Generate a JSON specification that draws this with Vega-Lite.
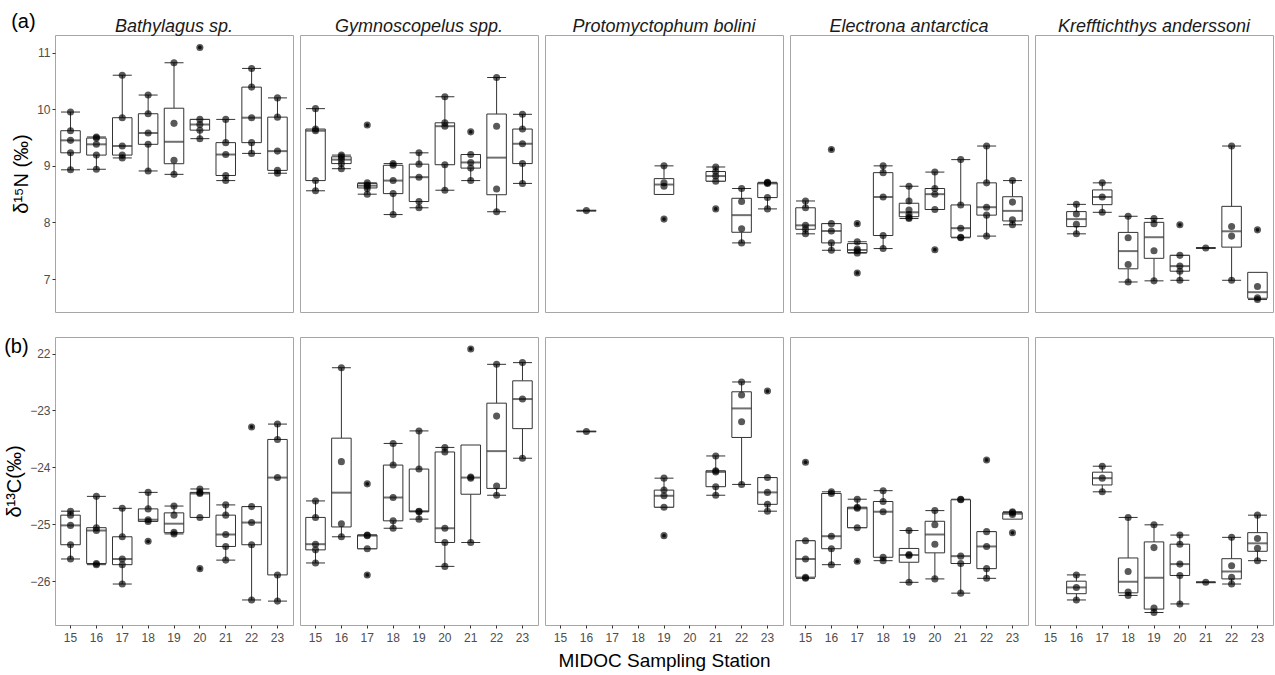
{
"$schema": "https://vega.github.io/schema/vega-lite/v6.json",
"padding": {"left": 4, "top": 11, "right": 2, "bottom": 2},
"background": "white",
"config": {
  "font": "Liberation Sans",
  "mark": {"color": "#333333"},
  "tick": {"color": "#333333"},
  "bar": {"color": "#333333"},
  "view": {"stroke": "#a6a6a6", "strokeWidth": 1},
  "title": {"font": "Liberation Sans", "fontSize": 18, "fontStyle": "italic", "fontWeight": "normal", "color": "#1a1a1a", "offset": -1},
  "axis": {"domain": false, "grid": false, "labelFont": "Liberation Sans", "labelFontSize": 12, "labelColor": "#4d4d4d", "tickColor": "#333333", "tickSize": 3, "labelPadding": 2, "titleFont": "Liberation Sans", "titleFontWeight": "normal", "titleColor": "#000000"},
  "axisY": {"titleFontSize": 20, "titlePadding": 5},
  "axisX": {"titleFontSize": 19, "labelAngle": 0, "labelPadding": 4, "titlePadding": 8},
  "boxplot": {"size": 19.5, "extent": 1.5, "color": "#333333",
    "box": {"color": "#333333", "fill": "white", "stroke": "#333333", "strokeWidth": 1, "opacity": 1},
    "median": {"color": "#333333", "fill": "#333333", "thickness": 2},
    "rule": {"color": "#333333", "stroke": "#333333", "strokeWidth": 1},
    "ticks": {"color": "#333333", "fill": "#333333", "size": 19, "thickness": 1},
    "outliers": {"color": "#111111", "size": 14, "filled": true, "opacity": 1}},
  "point": {"filled": true, "color": "#000000", "opacity": 0.65, "size": 50}
},
"datasets": {
"n": [
{"s":"Bat","st":15,"v":9.95},{"s":"Bat","st":15,"v":9.62},{"s":"Bat","st":15,"v":9.45},{"s":"Bat","st":15,"v":9.23},{"s":"Bat","st":15,"v":8.93},
{"s":"Bat","st":16,"v":9.51},{"s":"Bat","st":16,"v":9.49},{"s":"Bat","st":16,"v":9.38},{"s":"Bat","st":16,"v":9.19},{"s":"Bat","st":16,"v":8.94},
{"s":"Bat","st":17,"v":10.60},{"s":"Bat","st":17,"v":9.85},{"s":"Bat","st":17,"v":9.35},{"s":"Bat","st":17,"v":9.19},{"s":"Bat","st":17,"v":9.14},
{"s":"Bat","st":18,"v":10.25},{"s":"Bat","st":18,"v":9.92},{"s":"Bat","st":18,"v":9.58},{"s":"Bat","st":18,"v":9.38},{"s":"Bat","st":18,"v":8.91},
{"s":"Bat","st":19,"v":10.82},{"s":"Bat","st":19,"v":9.75},{"s":"Bat","st":19,"v":9.10},{"s":"Bat","st":19,"v":8.85},
{"s":"Bat","st":20,"v":11.09},{"s":"Bat","st":20,"v":9.82},{"s":"Bat","st":20,"v":9.73},{"s":"Bat","st":20,"v":9.63},{"s":"Bat","st":20,"v":9.48},
{"s":"Bat","st":21,"v":9.82},{"s":"Bat","st":21,"v":9.41},{"s":"Bat","st":21,"v":9.20},{"s":"Bat","st":21,"v":8.83},{"s":"Bat","st":21,"v":8.74},
{"s":"Bat","st":22,"v":10.72},{"s":"Bat","st":22,"v":10.39},{"s":"Bat","st":22,"v":9.85},{"s":"Bat","st":22,"v":9.41},{"s":"Bat","st":22,"v":9.22},
{"s":"Bat","st":23,"v":10.20},{"s":"Bat","st":23,"v":9.86},{"s":"Bat","st":23,"v":9.26},{"s":"Bat","st":23,"v":8.92},{"s":"Bat","st":23,"v":8.87},
{"s":"Gym","st":15,"v":10.01},{"s":"Gym","st":15,"v":9.65},{"s":"Gym","st":15,"v":9.62},{"s":"Gym","st":15,"v":8.74},{"s":"Gym","st":15,"v":8.56},
{"s":"Gym","st":16,"v":9.19},{"s":"Gym","st":16,"v":9.16},{"s":"Gym","st":16,"v":9.11},{"s":"Gym","st":16,"v":9.04},{"s":"Gym","st":16,"v":8.95},
{"s":"Gym","st":17,"v":9.72},{"s":"Gym","st":17,"v":8.70},{"s":"Gym","st":17,"v":8.66},{"s":"Gym","st":17,"v":8.64},{"s":"Gym","st":17,"v":8.60},{"s":"Gym","st":17,"v":8.50},
{"s":"Gym","st":18,"v":9.04},{"s":"Gym","st":18,"v":9.01},{"s":"Gym","st":18,"v":8.74},{"s":"Gym","st":18,"v":8.51},{"s":"Gym","st":18,"v":8.14},
{"s":"Gym","st":19,"v":9.23},{"s":"Gym","st":19,"v":9.03},{"s":"Gym","st":19,"v":8.80},{"s":"Gym","st":19,"v":8.37},{"s":"Gym","st":19,"v":8.26},
{"s":"Gym","st":20,"v":10.22},{"s":"Gym","st":20,"v":9.76},{"s":"Gym","st":20,"v":9.70},{"s":"Gym","st":20,"v":9.02},{"s":"Gym","st":20,"v":8.57},
{"s":"Gym","st":21,"v":9.60},{"s":"Gym","st":21,"v":9.20},{"s":"Gym","st":21,"v":9.06},{"s":"Gym","st":21,"v":8.96},{"s":"Gym","st":21,"v":8.74},
{"s":"Gym","st":22,"v":10.56},{"s":"Gym","st":22,"v":9.70},{"s":"Gym","st":22,"v":8.59},{"s":"Gym","st":22,"v":8.19},
{"s":"Gym","st":23,"v":9.91},{"s":"Gym","st":23,"v":9.65},{"s":"Gym","st":23,"v":9.39},{"s":"Gym","st":23,"v":9.04},{"s":"Gym","st":23,"v":8.69},
{"s":"Pro","st":16,"v":8.21},
{"s":"Pro","st":19,"v":9.00},{"s":"Pro","st":19,"v":8.70},{"s":"Pro","st":19,"v":8.64},{"s":"Pro","st":19,"v":8.06},
{"s":"Pro","st":21,"v":8.98},{"s":"Pro","st":21,"v":8.90},{"s":"Pro","st":21,"v":8.82},{"s":"Pro","st":21,"v":8.73},{"s":"Pro","st":21,"v":8.24},
{"s":"Pro","st":22,"v":8.60},{"s":"Pro","st":22,"v":8.37},{"s":"Pro","st":22,"v":7.89},{"s":"Pro","st":22,"v":7.64},
{"s":"Pro","st":23,"v":8.71},{"s":"Pro","st":23,"v":8.70},{"s":"Pro","st":23,"v":8.69},{"s":"Pro","st":23,"v":8.44},{"s":"Pro","st":23,"v":8.24},
{"s":"Ele","st":15,"v":8.38},{"s":"Ele","st":15,"v":8.26},{"s":"Ele","st":15,"v":7.95},{"s":"Ele","st":15,"v":7.88},{"s":"Ele","st":15,"v":7.80},
{"s":"Ele","st":16,"v":9.29},{"s":"Ele","st":16,"v":7.98},{"s":"Ele","st":16,"v":7.85},{"s":"Ele","st":16,"v":7.64},{"s":"Ele","st":16,"v":7.51},
{"s":"Ele","st":17,"v":7.98},{"s":"Ele","st":17,"v":7.66},{"s":"Ele","st":17,"v":7.53},{"s":"Ele","st":17,"v":7.50},{"s":"Ele","st":17,"v":7.46},{"s":"Ele","st":17,"v":7.11},
{"s":"Ele","st":18,"v":9.00},{"s":"Ele","st":18,"v":8.88},{"s":"Ele","st":18,"v":8.45},{"s":"Ele","st":18,"v":7.77},{"s":"Ele","st":18,"v":7.54},
{"s":"Ele","st":19,"v":8.64},{"s":"Ele","st":19,"v":8.38},{"s":"Ele","st":19,"v":8.22},{"s":"Ele","st":19,"v":8.14},{"s":"Ele","st":19,"v":8.09},{"s":"Ele","st":19,"v":8.07},
{"s":"Ele","st":20,"v":8.89},{"s":"Ele","st":20,"v":8.60},{"s":"Ele","st":20,"v":8.50},{"s":"Ele","st":20,"v":8.23},{"s":"Ele","st":20,"v":7.52},
{"s":"Ele","st":21,"v":9.11},{"s":"Ele","st":21,"v":8.31},{"s":"Ele","st":21,"v":7.90},{"s":"Ele","st":21,"v":7.74},{"s":"Ele","st":21,"v":7.73},
{"s":"Ele","st":22,"v":9.35},{"s":"Ele","st":22,"v":8.70},{"s":"Ele","st":22,"v":8.27},{"s":"Ele","st":22,"v":8.13},{"s":"Ele","st":22,"v":7.76},
{"s":"Ele","st":23,"v":8.74},{"s":"Ele","st":23,"v":8.36},{"s":"Ele","st":23,"v":8.05},{"s":"Ele","st":23,"v":7.96},
{"s":"Kre","st":16,"v":8.32},{"s":"Kre","st":16,"v":8.15},{"s":"Kre","st":16,"v":7.97},{"s":"Kre","st":16,"v":7.80},
{"s":"Kre","st":17,"v":8.70},{"s":"Kre","st":17,"v":8.45},{"s":"Kre","st":17,"v":8.18},
{"s":"Kre","st":18,"v":8.11},{"s":"Kre","st":18,"v":7.73},{"s":"Kre","st":18,"v":7.26},{"s":"Kre","st":18,"v":6.95},
{"s":"Kre","st":19,"v":8.07},{"s":"Kre","st":19,"v":7.98},{"s":"Kre","st":19,"v":7.50},{"s":"Kre","st":19,"v":6.97},
{"s":"Kre","st":20,"v":7.96},{"s":"Kre","st":20,"v":7.42},{"s":"Kre","st":20,"v":7.23},{"s":"Kre","st":20,"v":7.14},{"s":"Kre","st":20,"v":6.98},
{"s":"Kre","st":21,"v":7.55},
{"s":"Kre","st":22,"v":9.35},{"s":"Kre","st":22,"v":7.93},{"s":"Kre","st":22,"v":7.76},{"s":"Kre","st":22,"v":6.98},
{"s":"Kre","st":23,"v":7.87},{"s":"Kre","st":23,"v":6.87},{"s":"Kre","st":23,"v":6.67},{"s":"Kre","st":23,"v":6.64}
],
"c": [
{"s":"Bat","st":15,"v":-24.77},{"s":"Bat","st":15,"v":-24.84},{"s":"Bat","st":15,"v":-25.02},{"s":"Bat","st":15,"v":-25.36},{"s":"Bat","st":15,"v":-25.61},
{"s":"Bat","st":16,"v":-24.51},{"s":"Bat","st":16,"v":-25.06},{"s":"Bat","st":16,"v":-25.11},{"s":"Bat","st":16,"v":-25.69},{"s":"Bat","st":16,"v":-25.71},
{"s":"Bat","st":17,"v":-24.72},{"s":"Bat","st":17,"v":-25.22},{"s":"Bat","st":17,"v":-25.61},{"s":"Bat","st":17,"v":-25.71},{"s":"Bat","st":17,"v":-26.05},
{"s":"Bat","st":18,"v":-24.44},{"s":"Bat","st":18,"v":-24.73},{"s":"Bat","st":18,"v":-24.92},{"s":"Bat","st":18,"v":-24.95},{"s":"Bat","st":18,"v":-25.30},
{"s":"Bat","st":19,"v":-24.68},{"s":"Bat","st":19,"v":-24.84},{"s":"Bat","st":19,"v":-25.14},{"s":"Bat","st":19,"v":-25.17},
{"s":"Bat","st":20,"v":-24.38},{"s":"Bat","st":20,"v":-24.44},{"s":"Bat","st":20,"v":-24.46},{"s":"Bat","st":20,"v":-24.88},{"s":"Bat","st":20,"v":-25.78},
{"s":"Bat","st":21,"v":-24.66},{"s":"Bat","st":21,"v":-24.84},{"s":"Bat","st":21,"v":-25.18},{"s":"Bat","st":21,"v":-25.39},{"s":"Bat","st":21,"v":-25.63},
{"s":"Bat","st":22,"v":-23.29},{"s":"Bat","st":22,"v":-24.69},{"s":"Bat","st":22,"v":-24.97},{"s":"Bat","st":22,"v":-25.36},{"s":"Bat","st":22,"v":-26.33},
{"s":"Bat","st":23,"v":-23.24},{"s":"Bat","st":23,"v":-23.51},{"s":"Bat","st":23,"v":-24.18},{"s":"Bat","st":23,"v":-25.89},{"s":"Bat","st":23,"v":-26.35},
{"s":"Gym","st":15,"v":-24.59},{"s":"Gym","st":15,"v":-24.88},{"s":"Gym","st":15,"v":-25.35},{"s":"Gym","st":15,"v":-25.45},{"s":"Gym","st":15,"v":-25.68},
{"s":"Gym","st":16,"v":-22.25},{"s":"Gym","st":16,"v":-23.90},{"s":"Gym","st":16,"v":-24.99},{"s":"Gym","st":16,"v":-25.22},
{"s":"Gym","st":17,"v":-24.29},{"s":"Gym","st":17,"v":-25.19},{"s":"Gym","st":17,"v":-25.20},{"s":"Gym","st":17,"v":-25.43},{"s":"Gym","st":17,"v":-25.89},
{"s":"Gym","st":18,"v":-23.58},{"s":"Gym","st":18,"v":-23.96},{"s":"Gym","st":18,"v":-24.53},{"s":"Gym","st":18,"v":-24.94},{"s":"Gym","st":18,"v":-25.07},
{"s":"Gym","st":19,"v":-23.36},{"s":"Gym","st":19,"v":-24.03},{"s":"Gym","st":19,"v":-24.77},{"s":"Gym","st":19,"v":-24.78},{"s":"Gym","st":19,"v":-24.91},
{"s":"Gym","st":20,"v":-23.65},{"s":"Gym","st":20,"v":-23.73},{"s":"Gym","st":20,"v":-25.07},{"s":"Gym","st":20,"v":-25.32},{"s":"Gym","st":20,"v":-25.74},
{"s":"Gym","st":21,"v":-21.92},{"s":"Gym","st":21,"v":-24.17},{"s":"Gym","st":21,"v":-24.19},{"s":"Gym","st":21,"v":-25.32},
{"s":"Gym","st":22,"v":-22.19},{"s":"Gym","st":22,"v":-23.10},{"s":"Gym","st":22,"v":-24.33},{"s":"Gym","st":22,"v":-24.49},
{"s":"Gym","st":23,"v":-22.16},{"s":"Gym","st":23,"v":-22.80},{"s":"Gym","st":23,"v":-23.84},
{"s":"Pro","st":16,"v":-23.37},
{"s":"Pro","st":19,"v":-24.19},{"s":"Pro","st":19,"v":-24.40},{"s":"Pro","st":19,"v":-24.50},{"s":"Pro","st":19,"v":-24.70},{"s":"Pro","st":19,"v":-25.20},
{"s":"Pro","st":21,"v":-23.80},{"s":"Pro","st":21,"v":-24.06},{"s":"Pro","st":21,"v":-24.08},{"s":"Pro","st":21,"v":-24.34},{"s":"Pro","st":21,"v":-24.49},
{"s":"Pro","st":22,"v":-22.50},{"s":"Pro","st":22,"v":-22.73},{"s":"Pro","st":22,"v":-23.20},{"s":"Pro","st":22,"v":-24.30},
{"s":"Pro","st":23,"v":-22.66},{"s":"Pro","st":23,"v":-24.18},{"s":"Pro","st":23,"v":-24.44},{"s":"Pro","st":23,"v":-24.65},{"s":"Pro","st":23,"v":-24.77},
{"s":"Ele","st":15,"v":-23.91},{"s":"Ele","st":15,"v":-25.29},{"s":"Ele","st":15,"v":-25.61},{"s":"Ele","st":15,"v":-25.93},{"s":"Ele","st":15,"v":-25.95},
{"s":"Ele","st":16,"v":-24.43},{"s":"Ele","st":16,"v":-24.46},{"s":"Ele","st":16,"v":-25.21},{"s":"Ele","st":16,"v":-25.43},{"s":"Ele","st":16,"v":-25.71},
{"s":"Ele","st":17,"v":-24.56},{"s":"Ele","st":17,"v":-24.70},{"s":"Ele","st":17,"v":-24.72},{"s":"Ele","st":17,"v":-25.06},{"s":"Ele","st":17,"v":-25.65},
{"s":"Ele","st":18,"v":-24.41},{"s":"Ele","st":18,"v":-24.60},{"s":"Ele","st":18,"v":-24.78},{"s":"Ele","st":18,"v":-25.58},{"s":"Ele","st":18,"v":-25.64},
{"s":"Ele","st":19,"v":-25.11},{"s":"Ele","st":19,"v":-25.53},{"s":"Ele","st":19,"v":-25.55},{"s":"Ele","st":19,"v":-26.02},
{"s":"Ele","st":20,"v":-24.76},{"s":"Ele","st":20,"v":-25.01},{"s":"Ele","st":20,"v":-25.35},{"s":"Ele","st":20,"v":-25.96},
{"s":"Ele","st":21,"v":-24.56},{"s":"Ele","st":21,"v":-24.57},{"s":"Ele","st":21,"v":-25.56},{"s":"Ele","st":21,"v":-25.69},{"s":"Ele","st":21,"v":-26.21},
{"s":"Ele","st":22,"v":-23.87},{"s":"Ele","st":22,"v":-25.13},{"s":"Ele","st":22,"v":-25.39},{"s":"Ele","st":22,"v":-25.78},{"s":"Ele","st":22,"v":-25.95},
{"s":"Ele","st":23,"v":-24.78},{"s":"Ele","st":23,"v":-24.80},{"s":"Ele","st":23,"v":-24.83},{"s":"Ele","st":23,"v":-25.15},
{"s":"Kre","st":16,"v":-25.89},{"s":"Kre","st":16,"v":-26.11},{"s":"Kre","st":16,"v":-26.33},
{"s":"Kre","st":17,"v":-23.98},{"s":"Kre","st":17,"v":-24.19},{"s":"Kre","st":17,"v":-24.43},
{"s":"Kre","st":18,"v":-24.88},{"s":"Kre","st":18,"v":-25.83},{"s":"Kre","st":18,"v":-26.19},{"s":"Kre","st":18,"v":-26.25},
{"s":"Kre","st":19,"v":-25.01},{"s":"Kre","st":19,"v":-25.41},{"s":"Kre","st":19,"v":-26.47},{"s":"Kre","st":19,"v":-26.55},
{"s":"Kre","st":20,"v":-25.19},{"s":"Kre","st":20,"v":-25.35},{"s":"Kre","st":20,"v":-25.70},{"s":"Kre","st":20,"v":-25.90},{"s":"Kre","st":20,"v":-26.40},
{"s":"Kre","st":21,"v":-26.02},
{"s":"Kre","st":22,"v":-25.23},{"s":"Kre","st":22,"v":-25.73},{"s":"Kre","st":22,"v":-25.93},{"s":"Kre","st":22,"v":-26.05},
{"s":"Kre","st":23,"v":-24.84},{"s":"Kre","st":23,"v":-25.25},{"s":"Kre","st":23,"v":-25.42},{"s":"Kre","st":23,"v":-25.64}
]
},
"spacing": 23,
"vconcat": [
{
  "data": {"name": "n"},
  "title": {"text": "(a)", "anchor": "start", "frame": "bounds", "fontSize": 20, "fontStyle": "normal", "color": "#000000", "offset": -14},
  "spacing": 5,
  "hconcat": [
    {"width": 238, "height": 277, "title": "Bathylagus sp.", "transform": [{"filter": "datum.s == 'Bat'"}],
     "encoding": {"x": {"field": "st", "type": "ordinal", "scale": {"domain": [15,16,17,18,19,20,21,22,23], "paddingInner": 0, "paddingOuter": 0.1}, "axis": null},
                  "y": {"field": "v", "type": "quantitative", "scale": {"domain": [6.42, 11.31], "nice": false, "zero": false}, "axis": {"values": [7,8,9,10,11], "title": "δ¹⁵N (‰)"}}},
     "layer": [{"mark": {"type": "boxplot", "color": "#333333"}}, {"mark": "point"}]},
    {"width": 238, "height": 277, "title": "Gymnoscopelus spp.", "transform": [{"filter": "datum.s == 'Gym'"}],
     "encoding": {"x": {"field": "st", "type": "ordinal", "scale": {"domain": [15,16,17,18,19,20,21,22,23], "paddingInner": 0, "paddingOuter": 0.1}, "axis": null},
                  "y": {"field": "v", "type": "quantitative", "scale": {"domain": [6.42, 11.31], "nice": false, "zero": false}, "axis": null}},
     "layer": [{"mark": {"type": "boxplot", "color": "#333333"}}, {"mark": "point"}]},
    {"width": 238, "height": 277, "title": "Protomyctophum bolini", "transform": [{"filter": "datum.s == 'Pro'"}],
     "encoding": {"x": {"field": "st", "type": "ordinal", "scale": {"domain": [15,16,17,18,19,20,21,22,23], "paddingInner": 0, "paddingOuter": 0.1}, "axis": null},
                  "y": {"field": "v", "type": "quantitative", "scale": {"domain": [6.42, 11.31], "nice": false, "zero": false}, "axis": null}},
     "layer": [{"mark": {"type": "boxplot", "color": "#333333"}}, {"mark": "point"}]},
    {"width": 238, "height": 277, "title": "Electrona antarctica", "transform": [{"filter": "datum.s == 'Ele'"}],
     "encoding": {"x": {"field": "st", "type": "ordinal", "scale": {"domain": [15,16,17,18,19,20,21,22,23], "paddingInner": 0, "paddingOuter": 0.1}, "axis": null},
                  "y": {"field": "v", "type": "quantitative", "scale": {"domain": [6.42, 11.31], "nice": false, "zero": false}, "axis": null}},
     "layer": [{"mark": {"type": "boxplot", "color": "#333333"}}, {"mark": "point"}]},
    {"width": 238, "height": 277, "title": "Krefftichthys anderssoni", "transform": [{"filter": "datum.s == 'Kre'"}],
     "encoding": {"x": {"field": "st", "type": "ordinal", "scale": {"domain": [15,16,17,18,19,20,21,22,23], "paddingInner": 0, "paddingOuter": 0.1}, "axis": null},
                  "y": {"field": "v", "type": "quantitative", "scale": {"domain": [6.42, 11.31], "nice": false, "zero": false}, "axis": null}},
     "layer": [{"mark": {"type": "boxplot", "color": "#333333"}}, {"mark": "point"}]}
  ]
},
{
  "data": {"name": "c"},
  "title": {"text": "(b)", "anchor": "start", "frame": "bounds", "fontSize": 20, "fontStyle": "normal", "color": "#000000", "offset": -20},
  "spacing": 5,
  "hconcat": [
    {"width": 238, "height": 288, "transform": [{"filter": "datum.s == 'Bat'"}],
     "encoding": {"x": {"field": "st", "type": "ordinal", "scale": {"domain": [15,16,17,18,19,20,21,22,23], "paddingInner": 0, "paddingOuter": 0.1}, "axis": {"title": null}},
                  "y": {"field": "v", "type": "quantitative", "scale": {"domain": [-26.77, -21.71], "nice": false, "zero": false}, "axis": {"values": [-26,-25,-24,-23,-22], "labelExpr": "datum.value == -22 ? '22' : datum.label", "title": "δ¹³C(‰)"}}},
     "layer": [{"mark": {"type": "boxplot", "color": "#333333"}}, {"mark": "point"}]},
    {"width": 238, "height": 288, "transform": [{"filter": "datum.s == 'Gym'"}],
     "encoding": {"x": {"field": "st", "type": "ordinal", "scale": {"domain": [15,16,17,18,19,20,21,22,23], "paddingInner": 0, "paddingOuter": 0.1}, "axis": {"title": null}},
                  "y": {"field": "v", "type": "quantitative", "scale": {"domain": [-26.77, -21.71], "nice": false, "zero": false}, "axis": null}},
     "layer": [{"mark": {"type": "boxplot", "color": "#333333"}}, {"mark": "point"}]},
    {"width": 238, "height": 288, "transform": [{"filter": "datum.s == 'Pro'"}],
     "encoding": {"x": {"field": "st", "type": "ordinal", "scale": {"domain": [15,16,17,18,19,20,21,22,23], "paddingInner": 0, "paddingOuter": 0.1}, "axis": {"title": "MIDOC Sampling Station"}},
                  "y": {"field": "v", "type": "quantitative", "scale": {"domain": [-26.77, -21.71], "nice": false, "zero": false}, "axis": null}},
     "layer": [{"mark": {"type": "boxplot", "color": "#333333"}}, {"mark": "point"}]},
    {"width": 238, "height": 288, "transform": [{"filter": "datum.s == 'Ele'"}],
     "encoding": {"x": {"field": "st", "type": "ordinal", "scale": {"domain": [15,16,17,18,19,20,21,22,23], "paddingInner": 0, "paddingOuter": 0.1}, "axis": {"title": null}},
                  "y": {"field": "v", "type": "quantitative", "scale": {"domain": [-26.77, -21.71], "nice": false, "zero": false}, "axis": null}},
     "layer": [{"mark": {"type": "boxplot", "color": "#333333"}}, {"mark": "point"}]},
    {"width": 238, "height": 288, "transform": [{"filter": "datum.s == 'Kre'"}],
     "encoding": {"x": {"field": "st", "type": "ordinal", "scale": {"domain": [15,16,17,18,19,20,21,22,23], "paddingInner": 0, "paddingOuter": 0.1}, "axis": {"title": null}},
                  "y": {"field": "v", "type": "quantitative", "scale": {"domain": [-26.77, -21.71], "nice": false, "zero": false}, "axis": null}},
     "layer": [{"mark": {"type": "boxplot", "color": "#333333"}}, {"mark": "point"}]}
  ]
}
]
}
